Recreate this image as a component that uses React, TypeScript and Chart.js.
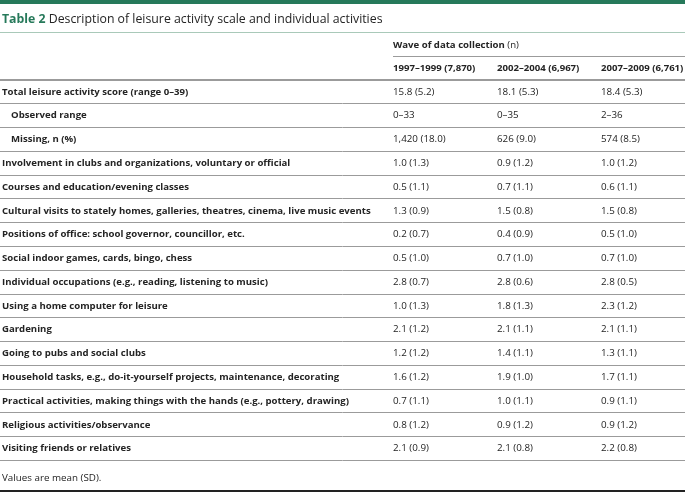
import React, { useEffect, useRef } from "react";
import { Chart, registerables } from "chart.js";

Chart.register(...registerables);

const titleLabel = "Table 2";
const titleText = "Description of leisure activity scale and individual activities";
const groupHeader = "Wave of data collection";
const groupHeaderSuffix = "(n)";
const waveHeaders = ["1997–1999 (7,870)", "2002–2004 (6,967)", "2007–2009 (6,761)"];

const rowLabels = [
  "Total leisure activity score (range 0–39)",
  "Observed range",
  "Missing, n (%)",
  "Involvement in clubs and organizations, voluntary or official",
  "Courses and education/evening classes",
  "Cultural visits to stately homes, galleries, theatres, cinema, live music events",
  "Positions of office: school governor, councillor, etc.",
  "Social indoor games, cards, bingo, chess",
  "Individual occupations (e.g., reading, listening to music)",
  "Using a home computer for leisure",
  "Gardening",
  "Going to pubs and social clubs",
  "Household tasks, e.g., do-it-yourself projects, maintenance, decorating",
  "Practical activities, making things with the hands (e.g., pottery, drawing)",
  "Religious activities/observance",
  "Visiting friends or relatives",
];
const indentedRows = ["Observed range", "Missing, n (%)"];

const wave1997 = [
  "15.8 (5.2)", "0–33", "1,420 (18.0)", "1.0 (1.3)", "0.5 (1.1)", "1.3 (0.9)", "0.2 (0.7)", "0.5 (1.0)",
  "2.8 (0.7)", "1.0 (1.3)", "2.1 (1.2)", "1.2 (1.2)", "1.6 (1.2)", "0.7 (1.1)", "0.8 (1.2)", "2.1 (0.9)",
];
const wave2002 = [
  "18.1 (5.3)", "0–35", "626 (9.0)", "0.9 (1.2)", "0.7 (1.1)", "1.5 (0.8)", "0.4 (0.9)", "0.7 (1.0)",
  "2.8 (0.6)", "1.8 (1.3)", "2.1 (1.1)", "1.4 (1.1)", "1.9 (1.0)", "1.0 (1.1)", "0.9 (1.2)", "2.1 (0.8)",
];
const wave2007 = [
  "18.4 (5.3)", "2–36", "574 (8.5)", "1.0 (1.2)", "0.6 (1.1)", "1.5 (0.8)", "0.5 (1.0)", "0.7 (1.0)",
  "2.8 (0.5)", "2.3 (1.2)", "2.1 (1.1)", "1.3 (1.1)", "1.7 (1.1)", "0.9 (1.1)", "0.9 (1.2)", "2.2 (0.8)",
];
const waveColumns = [wave1997, wave2002, wave2007];
const footnote = "Values are mean (SD).";

const FONT = "'Open Sans', 'Noto Sans', sans-serif";
const TEXT = "#242424";
const GREEN = "#26795a";
const RULE = "#9b9b9b";

const tablePlugin = {
  id: "tableText",
  beforeDraw(chart: any) {
    const { ctx, width, chartArea } = chart;
    const xs = chart.scales.x;
    const rowH = (chartArea.bottom - chartArea.top) / rowLabels.length;
    ctx.save();
    ctx.fillStyle = "#ffffff";
    ctx.fillRect(0, 0, width, chart.height);
    // top bar
    ctx.fillStyle = GREEN;
    ctx.fillRect(0, 0, width, 4);
    // title
    ctx.textBaseline = "middle";
    ctx.textAlign = "left";
    ctx.font = `bold 12.3px ${FONT}`;
    ctx.fillStyle = GREEN;
    ctx.fillText(titleLabel, 2, 19.5);
    const w = ctx.measureText(titleLabel + " ").width;
    ctx.font = `12.3px ${FONT}`;
    ctx.fillStyle = TEXT;
    ctx.fillText(titleText, 2 + w, 19.5);
    // title rule
    ctx.fillStyle = "#a9c9b9";
    ctx.fillRect(0, 32, width, 1);
    // group header
    const c1 = xs.getPixelForValue(1);
    ctx.font = `bold 9.6px ${FONT}`;
    ctx.fillStyle = TEXT;
    const gy = chartArea.top - rowH * 1.45;
    ctx.fillText(groupHeader, c1, gy);
    const gw = ctx.measureText(groupHeader + " ").width;
    ctx.font = `9.6px ${FONT}`;
    ctx.fillText(groupHeaderSuffix, c1 + gw, gy);
    ctx.fillStyle = RULE;
    ctx.fillRect(c1, Math.round(chartArea.top - rowH), width - c1, 1);
    // wave headers
    ctx.font = `bold 9.6px ${FONT}`;
    ctx.fillStyle = TEXT;
    waveHeaders.forEach((h, i) => {
      ctx.fillText(h, xs.getPixelForValue(i + 1), chartArea.top - rowH / 2);
    });
    // footnote
    ctx.font = `9.8px ${FONT}`;
    ctx.fillText(footnote, 2, chartArea.bottom + 17.5);
    ctx.fillStyle = "#222222";
    ctx.fillRect(0, 490, width, 2);
    ctx.restore();
  },
  afterDatasetsDraw(chart: any) {
    const { ctx, chartArea } = chart;
    const ys = chart.scales.y;
    ctx.save();
    ctx.textBaseline = "middle";
    ctx.textAlign = "left";
    ctx.fillStyle = TEXT;
    ctx.font = `bold 9.6px ${FONT}`;
    rowLabels.forEach((label, r) => {
      const indent = indentedRows.includes(label) ? 11 : 2;
      ctx.fillText(label, chartArea.left + indent, ys.getPixelForValue(r));
    });
    ctx.font = `9.8px ${FONT}`;
    chart.data.datasets.forEach((_ds: any, di: number) => {
      const meta = chart.getDatasetMeta(di);
      meta.data.forEach((el: any, r: number) => {
        ctx.fillText(waveColumns[di][r], el.x, el.y);
      });
    });
    ctx.restore();
  },
};

export default function App() {
  const ref = useRef<HTMLCanvasElement | null>(null);
  useEffect(() => {
    document.body.style.margin = "0";
    if (!ref.current) return;
    const chart = new Chart(ref.current, {
      type: "scatter",
      data: {
        datasets: waveColumns.map((col, i) => ({
          label: waveHeaders[i],
          data: col.map((_, r) => ({ x: i + 1, y: rowLabels[r] as any })),
          pointRadius: 0,
          pointHoverRadius: 0,
        })),
      },
      options: {
        animation: false,
        responsive: true,
        maintainAspectRatio: false,
        layout: { padding: { top: 80, bottom: 31.5, left: 0, right: 0 } },
        plugins: { legend: { display: false }, tooltip: { enabled: false }, title: { display: false } },
        events: [],
        scales: {
          x: {
            type: "linear",
            display: false,
            min: 1 - 393 / 104,
            max: 1 - 393 / 104 + 685 / 104,
          },
          y: {
            type: "category",
            labels: rowLabels,
            offset: true,
            display: true,
            ticks: { display: false },
            border: { display: false },
            grid: {
              offset: true,
              drawTicks: false,
              color: RULE,
              lineWidth: (c: any) => (c.index === 0 ? 2 : 1),
            },
          },
        },
      },
      plugins: [tablePlugin],
    });
    return () => chart.destroy();
  }, []);
  return (
    <div style={{ position: "absolute", left: 0, top: 0, width: 685, height: 492 }}>
      <canvas ref={ref} />
    </div>
  );
}
